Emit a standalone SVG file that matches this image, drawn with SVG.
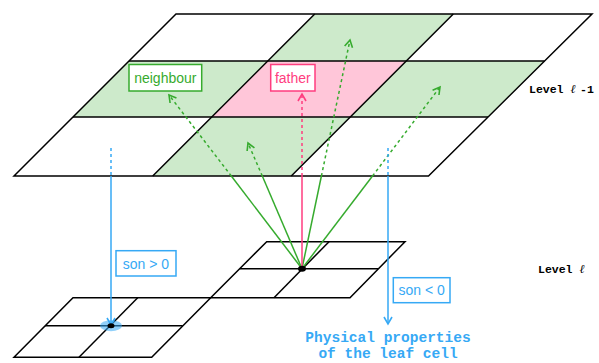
<svg xmlns="http://www.w3.org/2000/svg" width="599" height="363" viewBox="0 0 599 363">
<defs>
<style>
.grid{fill:none;stroke:#000;stroke-width:1.5;stroke-linejoin:miter}
.gfill{fill:#cdeacb;stroke:none}
.pfill{fill:#ffc6d9;stroke:none}
.g{stroke:#36ab2e;stroke-width:1.5;fill:none}
.p{stroke:#ff3d7f;stroke-width:1.5;fill:none}
.b{stroke:#36a9f5;stroke-width:1.5;fill:none}
.dot{stroke-dasharray:3 3}
.lbl{font-family:"Liberation Sans",Arial,sans-serif;font-size:14px}
.mono{font-family:"Liberation Mono","Courier New",monospace;font-weight:bold}
</style>
<marker id="ag" markerWidth="12" markerHeight="12" viewBox="-8 -6 10 12" refX="0" refY="0" orient="auto" markerUnits="userSpaceOnUse"><path d="M-7,-4 L0,0 L-7,4" fill="none" stroke="#36ab2e" stroke-width="1.6"/></marker>
<marker id="ap" markerWidth="12" markerHeight="12" viewBox="-8 -6 10 12" refX="0" refY="0" orient="auto" markerUnits="userSpaceOnUse"><path d="M-7,-4 L0,0 L-7,4" fill="none" stroke="#ff3d7f" stroke-width="1.6"/></marker>
<marker id="ab" markerWidth="12" markerHeight="12" viewBox="-8 -6 10 12" refX="0" refY="0" orient="auto" markerUnits="userSpaceOnUse"><path d="M-7,-4 L0,0 L-7,4" fill="none" stroke="#36a9f5" stroke-width="1.6"/></marker>
</defs>
<rect width="599" height="363" fill="#fff"/>

<g id="level-l-1">
<polygon class="gfill" points="314.7,14 453.3,14 406.3,61 267.7,61"/>
<polygon class="gfill" points="129,61 267.7,61 211.7,117 73,117"/>
<polygon class="gfill" points="406.3,61 544.5,61 488,117 350.3,117"/>
<polygon class="gfill" points="211.7,117 350.3,117 291.3,176 152.7,176"/>
<polygon class="pfill" points="267.7,61 406.3,61 350.3,117 211.7,117"/>
<polygon class="grid" points="176,14 592,14 428.5,176 14,176"/>
<line class="grid" x1="129" y1="61" x2="544.5" y2="61"/>
<line class="grid" x1="73" y1="117" x2="488" y2="117"/>
<line class="grid" x1="314.7" y1="14" x2="152.7" y2="176"/>
<line class="grid" x1="453.3" y1="14" x2="291.3" y2="176"/>
<text class="mono" x="529" y="93" font-size="11.5">Level <tspan font-family="'DejaVu Serif',serif" font-style="italic" font-weight="normal" font-size="12">ℓ</tspan><tspan x="580">-1</tspan></text>
</g>

<g id="level-l">
<polygon class="grid" points="73,297.7 210.7,297.7 151.7,357.3 14,357.3"/>
<line class="grid" x1="45" y1="325.7" x2="182.7" y2="325.7"/>
<line class="grid" x1="137.7" y1="297.7" x2="79" y2="357.3"/>
<polygon class="grid" points="266.7,241.7 405,241.7 350,297.7 210.7,297.7"/>
<line class="grid" x1="239.7" y1="268.7" x2="378" y2="268.7"/>
<line class="grid" x1="329" y1="241.7" x2="274" y2="297.7"/>
<text class="mono" x="538" y="272.5" font-size="11.5">Level <tspan font-family="'DejaVu Serif',serif" font-style="italic" font-weight="normal" font-size="12">ℓ</tspan></text>
</g>

<g id="connectors">
<line class="g" x1="302" y1="268.7" x2="231.3" y2="176"/>
<line class="g dot" x1="231.3" y1="176" x2="169" y2="95" marker-end="url(#ag)"/>
<line class="g" x1="302" y1="268.7" x2="262.3" y2="176"/>
<line class="g dot" x1="262.3" y1="176" x2="248" y2="143" marker-end="url(#ag)"/>
<line class="g" x1="302" y1="268.7" x2="321.4" y2="176"/>
<line class="g dot" x1="321.4" y1="176" x2="350" y2="40" marker-end="url(#ag)"/>
<line class="g" x1="302" y1="268.7" x2="372.5" y2="176"/>
<line class="g dot" x1="372.5" y1="176" x2="440" y2="87" marker-end="url(#ag)"/>
<line class="p" x1="302" y1="268.7" x2="302" y2="176"/>
<line class="p dot" x1="302" y1="176" x2="302" y2="94" marker-end="url(#ap)"/>
<line class="b dot" x1="111" y1="148" x2="111" y2="176"/>
<line class="b" x1="111" y1="176" x2="111" y2="325" marker-end="url(#ab)"/>
<line class="b dot" x1="388" y1="148" x2="388" y2="176"/>
<line class="b" x1="388" y1="176" x2="388" y2="324" marker-end="url(#ab)"/>
</g>

<g id="dots">
<ellipse cx="111" cy="325.7" rx="11" ry="5.5" fill="#36a9f5" fill-opacity="0.55"/>
<ellipse cx="111" cy="325.7" rx="3.5" ry="2.5" fill="#000"/>
<ellipse cx="302" cy="268.7" rx="4" ry="3" fill="#000"/>
</g>

<g id="neighbour">
<rect x="129" y="64.5" width="72.7" height="26.5" fill="#fff" stroke="#36ab2e" stroke-width="1.5"/>
<text class="lbl" x="165.3" y="82.5" text-anchor="middle" fill="#36ab2e">neighbour</text>
</g>
<g id="father">
<rect x="270.7" y="64.5" width="44.3" height="26.5" fill="#fff" stroke="#ff3d7f" stroke-width="1.5"/>
<text class="lbl" x="292.8" y="82.5" text-anchor="middle" fill="#ff3d7f">father</text>
</g>
<g id="son-pos">
<rect x="116" y="250.7" width="60" height="25.3" fill="#fff" stroke="#36a9f5" stroke-width="1.5"/>
<text class="lbl" x="146" y="268.5" text-anchor="middle" fill="#36a9f5">son &gt; 0</text>
</g>
<g id="son-neg">
<rect x="393.3" y="277.7" width="56.7" height="25" fill="#fff" stroke="#36a9f5" stroke-width="1.5"/>
<text class="lbl" x="421.7" y="295.3" text-anchor="middle" fill="#36a9f5">son &lt; 0</text>
</g>
<g id="leaf-properties">
<text class="mono" x="388" y="342" font-size="14.5" text-anchor="middle" fill="#36a9f5">Physical properties</text>
<text class="mono" x="388" y="358" font-size="14.5" text-anchor="middle" fill="#36a9f5">of the leaf cell</text>
</g>
</svg>
